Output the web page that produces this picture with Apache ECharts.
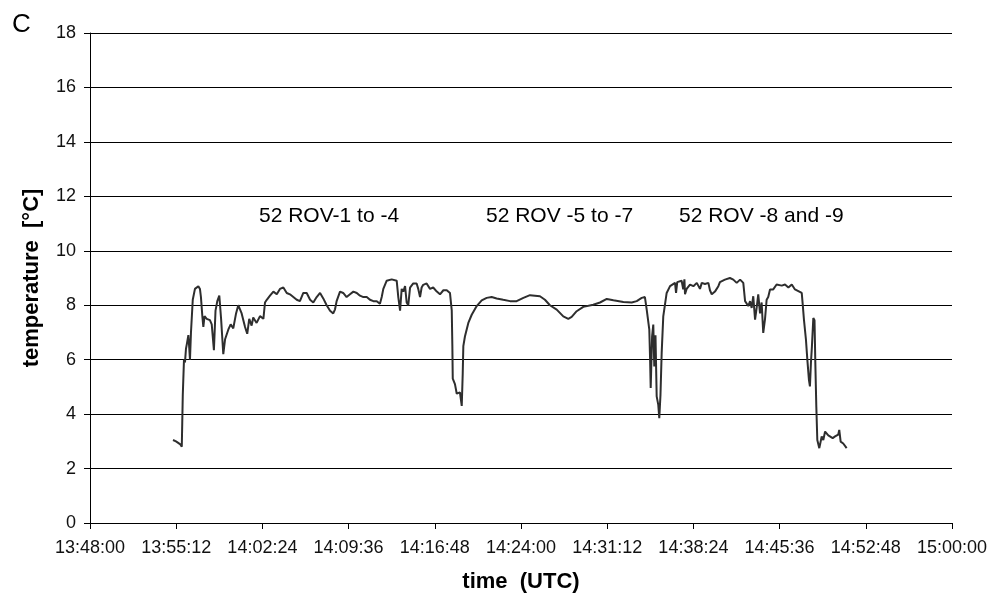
<!DOCTYPE html>
<html>
<head>
<meta charset="utf-8">
<script src="https://cdn.jsdelivr.net/npm/echarts@6/dist/echarts.min.js"></script>
<style>
html,body{margin:0;padding:0;background:#fff;}
#chart{width:989px;height:597px;}
</style>
</head>
<body>
<div id="chart"></div>
<script>
// ---- data ----
const panelLabel = "C";
const xAxisTitle = "time  (UTC)";
const yAxisTitle = "temperature  [°C]";
const xMin = "13:48:00";
const xMax = "15:00:00";
const xStep = "00:07:12";
const yMin = 0, yMax = 18, yStep = 2;
const annotations = ["52 ROV-1 to -4", "52 ROV -5 to -7", "52 ROV -8 and -9"];

const times = [
"13:54:56","13:55:11","13:55:21","13:55:31","13:55:40","13:55:45","13:55:51","13:55:56","13:56:01","13:56:06",
"13:56:13","13:56:16","13:56:21","13:56:26","13:56:35","13:56:46","13:57:03","13:57:11","13:57:16","13:57:23",
"13:57:28","13:57:34","13:57:45","13:58:01","13:58:10","13:58:21","13:58:29","13:58:38","13:58:48","13:58:57",
"13:59:08","13:59:17","13:59:33","13:59:45","13:59:58","14:00:12","14:00:23","14:00:40","14:00:57","14:01:08",
"14:01:18","14:01:30","14:01:38","14:01:55","14:02:12","14:02:29","14:02:37","14:02:46","14:03:02","14:03:19",
"14:03:36","14:03:52","14:04:09","14:04:26","14:04:42","14:04:59","14:05:16","14:05:32","14:05:49","14:06:06",
"14:06:23","14:06:39","14:06:56","14:07:13","14:07:29","14:07:46","14:08:03","14:08:19","14:08:28","14:08:36",
"14:08:53","14:09:09","14:09:26","14:09:43","14:10:00","14:10:17","14:10:33","14:10:50","14:11:07","14:11:23",
"14:11:40","14:11:57","14:12:13","14:12:22","14:12:30","14:12:47","14:13:12","14:13:37","14:13:45","14:13:54",
"14:14:02","14:14:10","14:14:19","14:14:27","14:14:35","14:14:44","14:15:00","14:15:17","14:15:25","14:15:34",
"14:15:42","14:15:50","14:16:07","14:16:24","14:16:40","14:16:58","14:17:14","14:17:31","14:17:48","14:18:04",
"14:18:13","14:18:16","14:18:18","14:18:29","14:18:38","14:18:46","14:18:54","14:19:03","14:19:08","14:19:11",
"14:19:19","14:19:36","14:19:53","14:20:18","14:20:43","14:21:08","14:21:33","14:21:58","14:22:31","14:23:05",
"14:23:38","14:24:12","14:24:45","14:25:10","14:25:35","14:26:00","14:26:25","14:26:59","14:27:32","14:27:57",
"14:28:14","14:28:39","14:29:12","14:30:02","14:30:36","14:31:10","14:31:43","14:32:33","14:33:15","14:33:40",
"14:34:05","14:34:21","14:34:30","14:34:43","14:34:47","14:34:50","14:34:57","14:35:03","14:35:08","14:35:14",
"14:35:20","14:35:28","14:35:33","14:35:39","14:35:45","14:35:53","14:36:10","14:36:27","14:36:52","14:36:57",
"14:37:03","14:37:25","14:37:33","14:37:39","14:37:42","14:37:50","14:38:07","14:38:24","14:38:41","14:38:57",
"14:39:06","14:39:22","14:39:39","14:39:47","14:39:56","14:40:12","14:40:29","14:40:37","14:41:02","14:41:27",
"14:41:44","14:42:01","14:42:18","14:42:34","14:42:43","14:42:59","14:43:08","14:43:16","14:43:24","14:43:33",
"14:43:41","14:43:49","14:43:58","14:44:06","14:44:14","14:44:23","14:44:31","14:44:39","14:44:48","14:45:04",
"14:45:21","14:45:47","14:46:03","14:46:20","14:46:37","14:46:53","14:47:02","14:47:27","14:47:32","14:47:38",
"14:47:48","14:47:55","14:48:03","14:48:08","14:48:13","14:48:18","14:48:25","14:48:31","14:48:35","14:48:40",
"14:48:45","14:48:55","14:49:07","14:49:15","14:49:24","14:49:40","14:49:49","14:50:02","14:50:14","14:50:30",
"14:50:35","14:50:42","14:50:55","14:51:12"
];

const temps = [
3.05,3.0,2.95,2.9,2.8,4.7,6.0,5.9,6.4,6.6,
6.9,6.6,6.0,7.0,8.2,8.6,8.7,8.6,8.3,7.6,
7.2,7.6,7.5,7.45,7.3,6.35,7.8,8.15,8.35,7.5,
6.2,6.75,7.1,7.3,7.15,7.7,8.0,7.7,7.2,6.95,
7.5,7.25,7.55,7.35,7.6,7.5,8.1,8.2,8.35,8.5,
8.4,8.6,8.65,8.45,8.4,8.3,8.2,8.15,8.45,8.45,
8.2,8.1,8.3,8.45,8.25,8.0,7.8,7.7,7.85,8.15,
8.5,8.45,8.3,8.4,8.5,8.45,8.35,8.3,8.3,8.2,
8.15,8.15,8.05,8.3,8.6,8.9,8.95,8.9,8.3,7.8,
8.6,8.5,8.7,8.1,8.0,8.65,8.8,8.8,8.6,8.3,
8.65,8.75,8.8,8.6,8.65,8.5,8.4,8.55,8.55,8.45,
7.8,6.5,5.3,5.1,4.75,4.7,4.8,4.3,5.5,6.5,
6.85,7.35,7.65,7.97,8.18,8.27,8.3,8.25,8.2,8.15,
8.15,8.27,8.37,8.35,8.33,8.2,8.0,7.84,7.59,7.5,
7.57,7.78,7.94,8.02,8.1,8.23,8.18,8.12,8.1,8.15,
8.27,8.3,7.84,7.1,6.0,4.96,6.86,7.29,5.75,6.9,
4.65,4.34,3.85,4.7,6.25,7.59,8.45,8.7,8.82,8.45,
8.85,8.9,8.58,8.95,8.4,8.6,8.76,8.7,8.82,8.6,
8.82,8.78,8.82,8.55,8.4,8.5,8.7,8.85,8.94,9.0,
8.94,8.82,8.94,8.82,8.15,7.97,8.15,7.9,8.33,7.47,
7.9,8.4,7.7,8.1,6.98,7.5,8.2,8.3,8.58,8.58,
8.76,8.72,8.76,8.65,8.76,8.58,8.51,8.45,8.02,7.47,
6.74,6.0,5.26,5.02,5.88,6.49,7.53,7.45,5.9,4.28,
3.05,2.75,3.18,3.05,3.36,3.22,3.25,3.12,3.18,3.25,
3.42,2.99,2.92,2.75
];

// ---- helpers ----
function toSec(s){ const p = s.split(':').map(Number); return p[0]*3600 + p[1]*60 + p[2]; }
function toClock(v){
  v = Math.round(v);
  const h = Math.floor(v/3600), m = Math.floor((v%3600)/60), s = v%60;
  const pad = n => (n<10?'0':'') + n;
  return h + ':' + pad(m) + ':' + pad(s);
}
const seriesData = times.map((t,i) => [toSec(t), temps[i]]);

const chart = echarts.init(document.getElementById('chart'), null, {renderer:'canvas'});
const font = 'Arial, "Liberation Sans", sans-serif';
chart.setOption({
  animation: false,
  backgroundColor: '#fff',
  grid: { left: 90, right: 37, top: 33, bottom: 74, containLabel: false, outerBoundsMode: 'none' },
  xAxis: {
    type: 'value',
    min: toSec(xMin), max: toSec(xMax), interval: toSec(xStep),
    name: xAxisTitle, nameLocation: 'middle', nameGap: 48,
    nameTextStyle: { fontFamily: font, fontSize: 22, fontWeight: 'bold', color: '#000' },
    axisLine: { show: true, lineStyle: { color: '#000', width: 1 } },
    axisTick: { show: true, length: 6, inside: false, lineStyle: { color: '#000' } },
    axisLabel: { fontFamily: font, fontSize: 18, color: '#111', margin: 16, formatter: v => toClock(v),
                 showMinLabel: true, showMaxLabel: true, hideOverlap: false },
    splitLine: { show: false }
  },
  yAxis: {
    type: 'value',
    min: yMin, max: yMax, interval: yStep,
    name: yAxisTitle, nameLocation: 'middle', nameGap: 47,
    nameTextStyle: { fontFamily: font, fontSize: 22, fontWeight: 'bold', color: '#000' },
    axisLine: { show: true, lineStyle: { color: '#000', width: 1 } },
    axisTick: { show: true, length: 6, lineStyle: { color: '#000' } },
    axisLabel: { fontFamily: font, fontSize: 18, color: '#111', margin: 14 },
    splitLine: { show: true, lineStyle: { color: '#000', width: 1 } }
  },
  graphic: [
    { type: 'text', left: 12, top: 12, style: { text: panelLabel, font: '26px ' + font, fill: '#000' } },
    { type: 'text', left: 259, top: 206, style: { text: annotations[0], font: '21px ' + font, fill: '#000' } },
    { type: 'text', left: 486, top: 206, style: { text: annotations[1], font: '21px ' + font, fill: '#000' } },
    { type: 'text', left: 679, top: 206, style: { text: annotations[2], font: '21px ' + font, fill: '#000' } }
  ],
  series: [{
    type: 'line',
    data: seriesData,
    showSymbol: false,
    symbol: 'none',
    smooth: false,
    lineStyle: { color: '#2e2e2e', width: 2 },
    z: 3
  }]
});
</script>
</body>
</html>
